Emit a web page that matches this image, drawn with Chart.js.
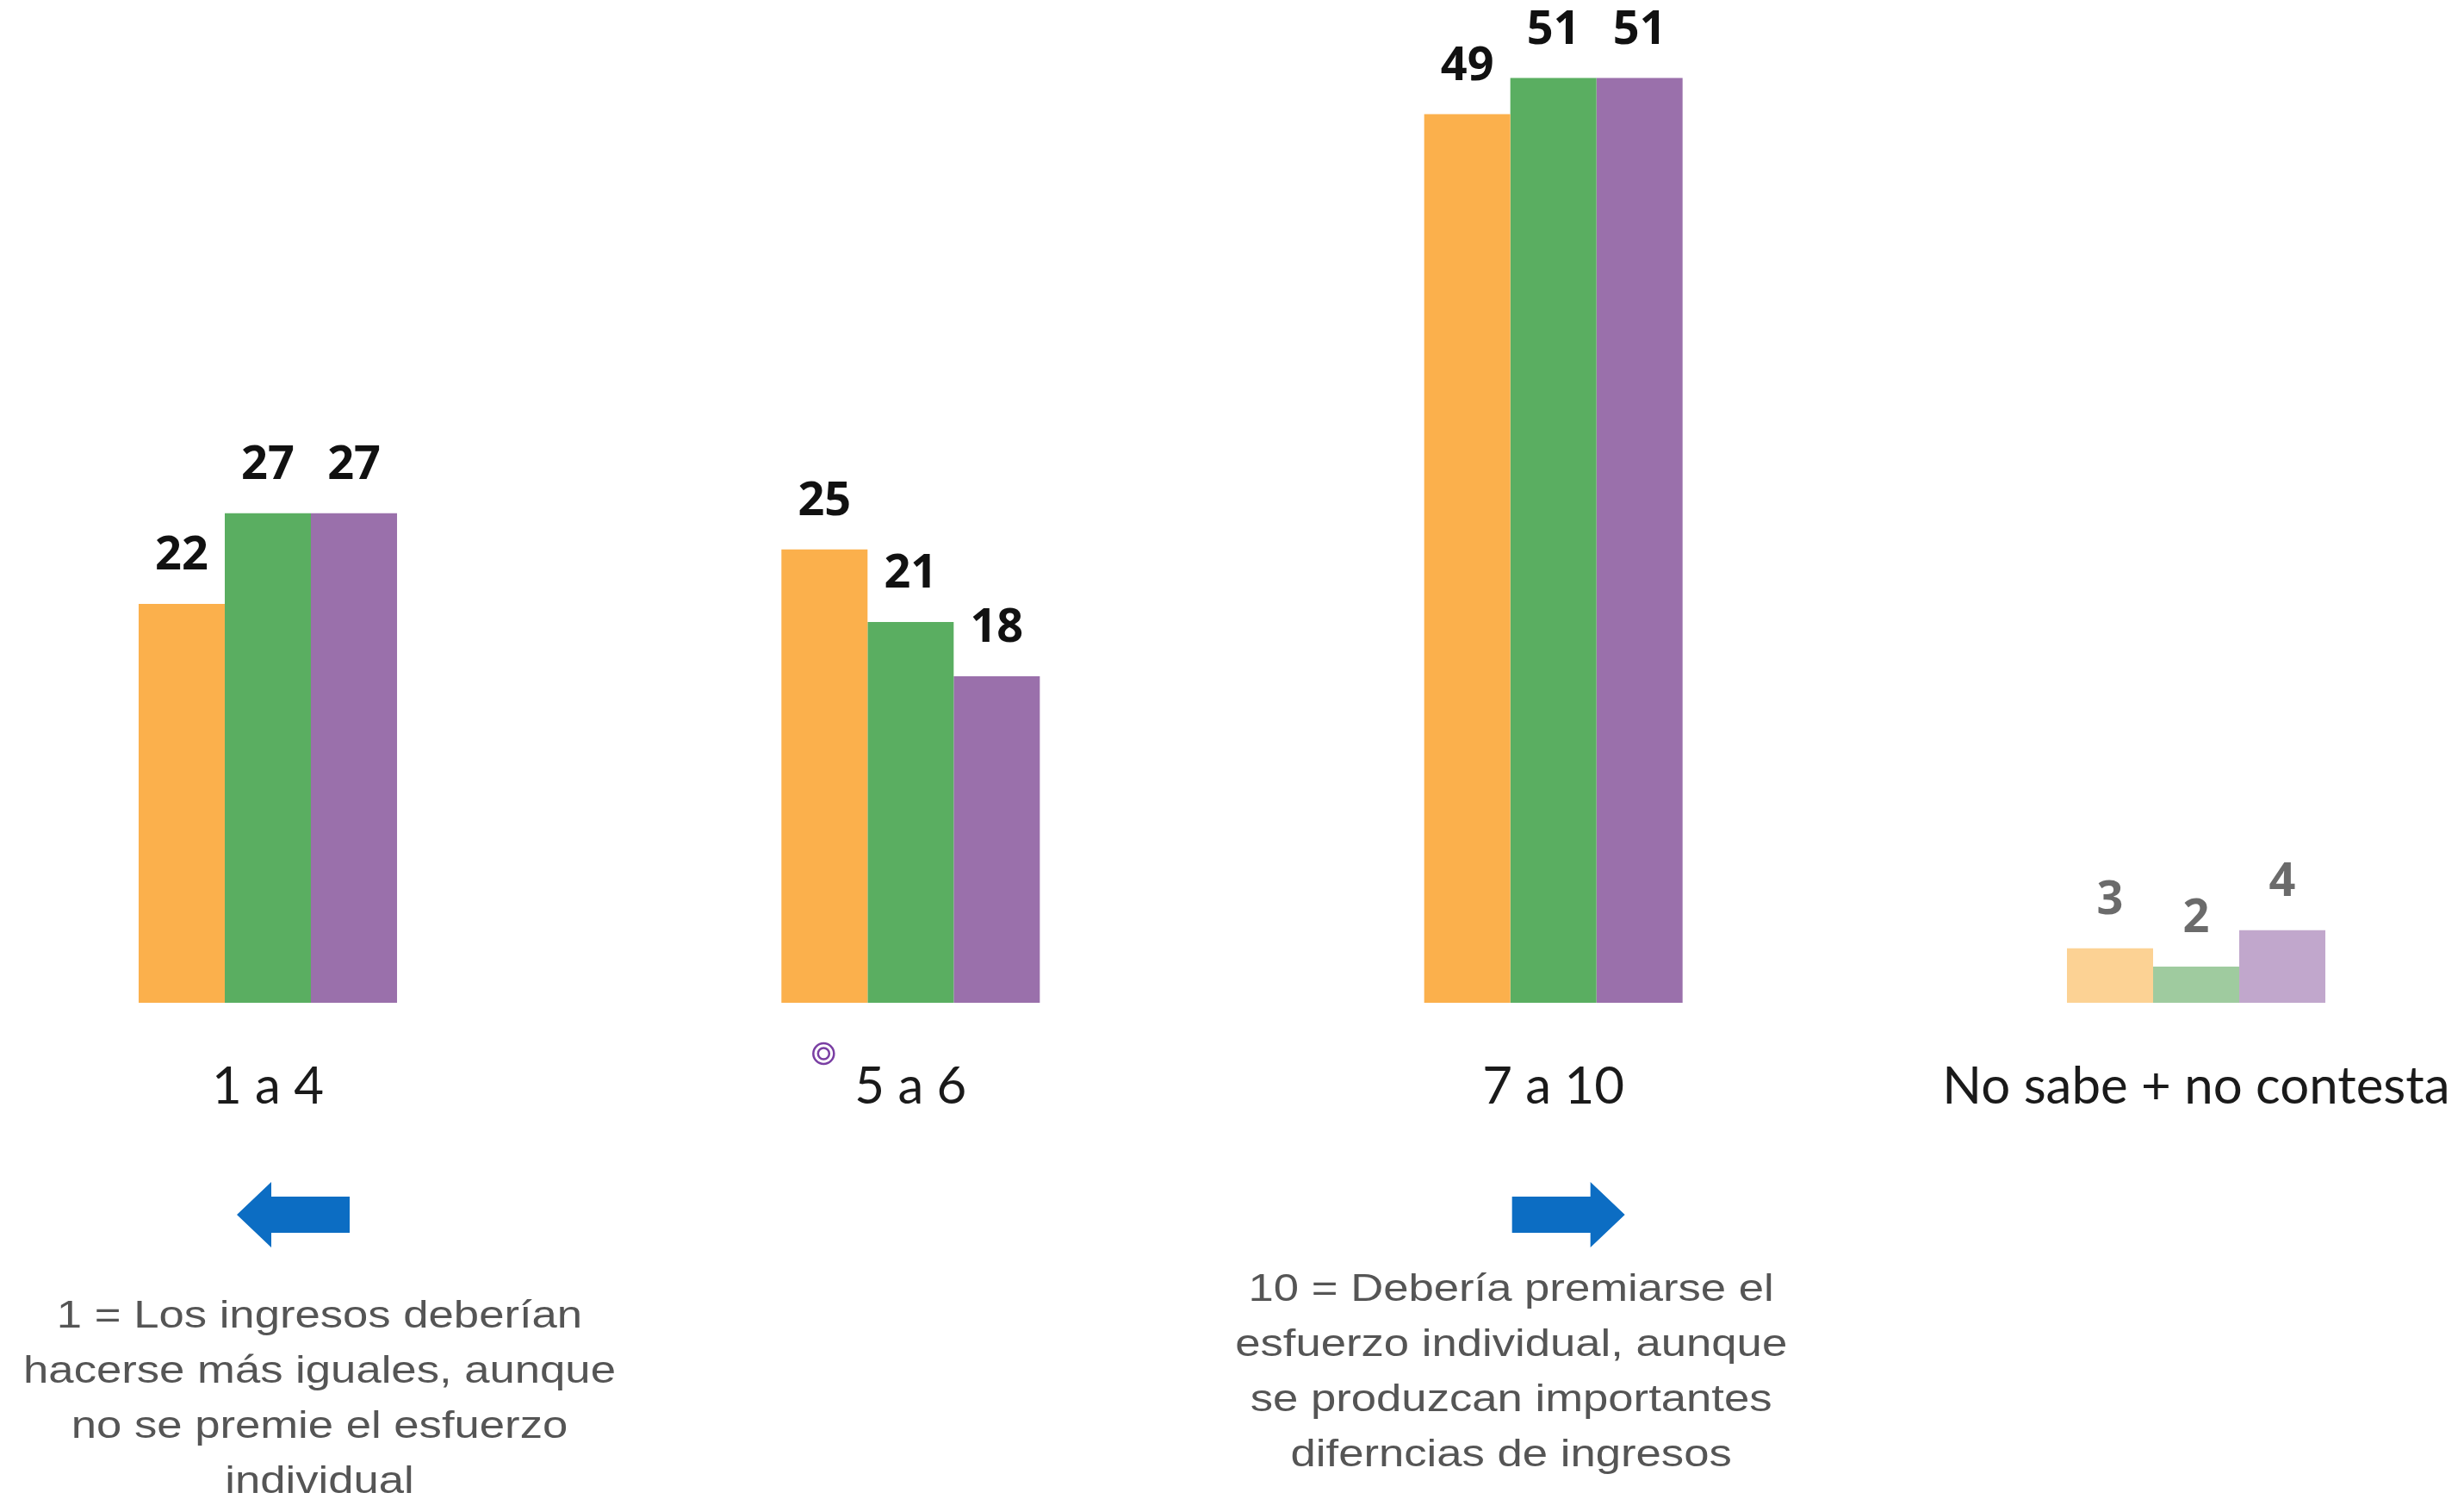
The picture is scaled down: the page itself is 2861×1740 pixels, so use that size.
<!DOCTYPE html>
<html lang="es">
<head>
<meta charset="utf-8">
<title>Ingresos iguales o premiar el esfuerzo</title>
<script src="https://cdn.jsdelivr.net/npm/chart.js@4.4.1/dist/chart.umd.min.js"></script>
<style>
    html, body { margin: 0; padding: 0; background: #ffffff; overflow: hidden; }
    #contenedor { position: relative; width: 2861px; height: 1740px; }
</style>
</head>
<body>
<div id="contenedor">
    <canvas id="graficoEscala"></canvas>
</div>
<script>
const CATEGORIAS = ["1 a 4", "5 a 6", "7 a 10", "No sabe + no contesta"];

const SERIE_NARANJA = [22, 25, 49, 3];
const SERIE_VERDE = [27, 21, 51, 2];
const SERIE_MORADA = [27, 18, 51, 4];

const TEXTO_IZQUIERDA = [
    "1 = Los ingresos deberían",
    "hacerse más iguales, aunque",
    "no se premie el esfuerzo",
    "individual"
];
const TEXTO_DERECHA = [
    "10 = Debería premiarse el",
    "esfuerzo individual, aunque",
    "se produzcan importantes",
    "diferncias de ingresos"
];

// la última categoría (no sabe / no contesta) va en tonos claros
const COLORES_NARANJA = ["#FBB04C", "#FBB04C", "#FBB04C", "#FCD294"];
const COLORES_VERDE = ["#5AAE61", "#5AAE61", "#5AAE61", "#9FCB9F"];
const COLORES_MORADO = ["#9A70AB", "#9A70AB", "#9A70AB", "#C1A7CC"];

const AZUL_FLECHA = "#0C6DC3";

// etiquetas de valor encima de cada barra
const etiquetasValor = {
    id: "etiquetasValor",
    afterDatasetsDraw(chart) {
        const ctx = chart.ctx;
        ctx.save();
        ctx.textAlign = "center";
        ctx.textBaseline = "alphabetic";
        chart.data.datasets.forEach((ds, i) => {
            const meta = chart.getDatasetMeta(i);
            meta.data.forEach((barra, j) => {
                const gris = j === CATEGORIAS.length - 1;
                ctx.fillStyle = gris ? "#6b6b6b" : "#111111";
                ctx.font = "bold 54px 'Open Sans'";
                ctx.fillText(String(ds.data[j]), barra.x, barra.y - 40);
            });
        });
        ctx.restore();
    }
};

function dibujarFlecha(ctx, x, y, sentido) {
    // x = punta de la flecha, sentido -1 izquierda, 1 derecha
    const largoCuerpo = 91;
    const largoPunta = 40;
    const medioCuerpo = 21;
    const medioPunta = 38;
    const base = x - sentido * largoPunta;
    ctx.beginPath();
    ctx.moveTo(x, y);
    ctx.lineTo(base, y - medioPunta);
    ctx.lineTo(base, y - medioCuerpo);
    ctx.lineTo(base - sentido * largoCuerpo, y - medioCuerpo);
    ctx.lineTo(base - sentido * largoCuerpo, y + medioCuerpo);
    ctx.lineTo(base, y + medioCuerpo);
    ctx.lineTo(base, y + medioPunta);
    ctx.closePath();
    ctx.fillStyle = AZUL_FLECHA;
    ctx.fill();
}

function dibujarTexto(ctx, lineas, cx, yInicial) {
    ctx.save();
    ctx.fillStyle = "#555555";
    ctx.font = "45px 'Liberation Sans', Arial, sans-serif";
    ctx.textAlign = "center";
    ctx.textBaseline = "alphabetic";
    lineas.forEach((linea, k) => {
        ctx.save();
        ctx.translate(cx, yInicial + k * 64);
        ctx.scale(1.17, 1); // el texto original aparece algo ensanchado
        ctx.fillText(linea, 0, 0);
        ctx.restore();
    });
    ctx.restore();
}

const anotaciones = {
    id: "anotaciones",
    afterDraw(chart) {
        const ctx = chart.ctx;
        const x = chart.scales.x;
        const yFlecha = 1410;

        dibujarFlecha(ctx, x.getPixelForValue(0) - 36, yFlecha, -1);
        dibujarFlecha(ctx, x.getPixelForValue(2) + 83, yFlecha, 1);

        dibujarTexto(ctx, TEXTO_IZQUIERDA, x.getPixelForValue(0) + 60, 1541);
        dibujarTexto(ctx, TEXTO_DERECHA, x.getPixelForValue(2) - 49, 1510);

        // pequeño icono morado junto a "5 a 6"
        const cx = x.getPixelForValue(1) - 101;
        const cy = 1223;
        ctx.save();
        ctx.strokeStyle = "#7A3FA3";
        ctx.lineWidth = 2.5;
        ctx.beginPath();
        ctx.arc(cx, cy, 12, 0, Math.PI * 2);
        ctx.stroke();
        ctx.beginPath();
        ctx.arc(cx, cy, 6.5, 0, Math.PI * 2);
        ctx.stroke();
        ctx.restore();
    }
};

const ctx = document.getElementById("graficoEscala").getContext("2d");

new Chart(ctx, {
    type: "bar",
    data: {
        labels: CATEGORIAS,
        datasets: [
            { label: "Serie 1", data: SERIE_NARANJA, backgroundColor: COLORES_NARANJA },
            { label: "Serie 2", data: SERIE_VERDE, backgroundColor: COLORES_VERDE },
            { label: "Serie 3", data: SERIE_MORADA, backgroundColor: COLORES_MORADO }
        ]
    },
    options: {
        responsive: true,
        maintainAspectRatio: false,
        animation: false,
        events: [],
        layout: {
            padding: { left: 311, right: 311, top: 0, bottom: 442 }
        },
        datasets: {
            bar: {
                categoryPercentage: 0.402,
                barPercentage: 1.0,
                borderWidth: 0,
                clip: false
            }
        },
        plugins: {
            legend: { display: false },
            tooltip: { enabled: false }
        },
        scales: {
            x: {
                offset: false,
                // el hueco bajo las barras se hace con la marca invisible, no con padding
                grid: { display: false, drawTicks: true, tickLength: 62 },
                border: { display: false },
                ticks: {
                    color: "#1a1a1a",
                    padding: 0,
                    maxRotation: 0,
                    autoSkip: false,
                    font: { family: "Lato", size: 60 }
                }
            },
            y: {
                display: false,
                min: 0,
                max: 55.3
            }
        }
    },
    plugins: [etiquetasValor, anotaciones]
});
</script>
</body>
</html>
